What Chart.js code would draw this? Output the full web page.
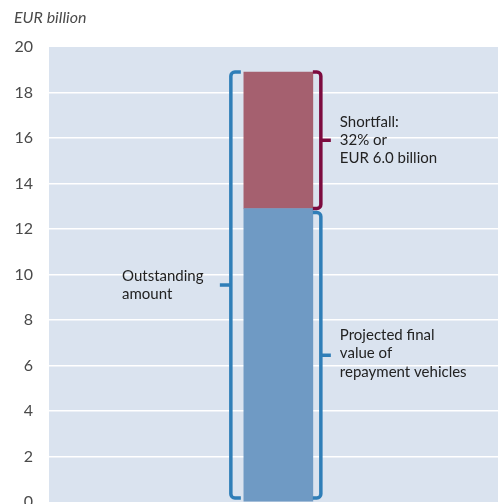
<!DOCTYPE html>
<html lang="en">
<head>
    <meta charset="UTF-8">
    <script src="https://cdn.jsdelivr.net/npm/chart.js"></script>
    <title>Outstanding amount and shortfall</title>
    <style>
        html, body { margin: 0; padding: 0; background: #fff; }
        #wrap { width: 498px; height: 504px; }
    </style>
</head>
<body>
<div id="wrap">
    <canvas id="shortfallChart" width="498" height="504"></canvas>
</div>

<script>
    // values (EUR billion)
    const seriesNames = ['Projected final value of repayment vehicles', 'Shortfall'];
    const repaymentValue = [12.9];
    const shortfallValue = [6.0];
    const yTicks = [0, 2, 4, 6, 8, 10, 12, 14, 16, 18, 20];
    const unitLabel = 'EUR billion';
    const outstandingLabel = ['Outstanding', 'amount'];
    const shortfallLabel = ['Shortfall:', '32% or', 'EUR 6.0 billion'];
    const repaymentLabel = ['Projected final', 'value of', 'repayment vehicles'];

    const FONT = 'Lato, "Open Sans", sans-serif';
    const BLUE_LINE = '#2f7eb8';
    const RED_LINE = '#7c0b3f';

    // light blue plot background + unit label
    const plotBg = {
        id: 'plotBg',
        beforeDraw(chart) {
            const a = chart.chartArea, ctx = chart.ctx;
            ctx.save();
            ctx.fillStyle = '#dae3ef';
            ctx.fillRect(a.left, a.top, a.right - a.left, a.bottom - a.top);
            ctx.fillStyle = '#4a4a4a';
            ctx.font = 'italic 16px ' + FONT;
            ctx.textBaseline = 'alphabetic';
            ctx.fillText(unitLabel, 14, 23);
            ctx.restore();
        }
    };

    // draws a square bracket: side 'left' opens right, 'right' opens left; tick points outward
    function bracket(ctx, x, y1, y2, side, color) {
        const hook = side === 'left' ? 10 : -8;
        const tick = side === 'left' ? -11 : 10;
        const r = 4;
        const ym = (y1 + y2) / 2;
        ctx.save();
        ctx.strokeStyle = color;
        ctx.lineWidth = 3.5;
        ctx.beginPath();
        ctx.moveTo(x + hook, y1);
        ctx.arcTo(x, y1, x, y1 + r, r);
        ctx.lineTo(x, y2 - r);
        ctx.arcTo(x, y2, x + hook, y2, r);
        ctx.lineTo(x + hook, y2);
        ctx.stroke();
        ctx.beginPath();
        ctx.moveTo(x, ym);
        ctx.lineTo(x + tick, ym);
        ctx.stroke();
        ctx.restore();
    }

    function textBlock(ctx, lines, x, yMid, lh) {
        const y0 = yMid - (lines.length - 1) * lh / 2;
        lines.forEach((t, i) => ctx.fillText(t, x, y0 + i * lh));
    }

    const braces = {
        id: 'braces',
        afterDatasetsDraw(chart) {
            const ctx = chart.ctx;
            const y = chart.scales.y;
            const bar = chart.getDatasetMeta(0).data[0];
            const left = bar.x - bar.width / 2;
            const right = bar.x + bar.width / 2;
            const total = repaymentValue[0] + shortfallValue[0];

            const yTop = y.getPixelForValue(total);
            const ySplit = y.getPixelForValue(repaymentValue[0]);
            const yZero = y.getPixelForValue(0) - 4;

            bracket(ctx, left - 13, yTop, yZero, 'left', BLUE_LINE);
            bracket(ctx, right + 8, yTop, ySplit, 'right', RED_LINE);
            bracket(ctx, right + 8, ySplit + 4, yZero, 'right', BLUE_LINE);

            ctx.save();
            ctx.fillStyle = '#222';
            ctx.font = '15px ' + FONT;
            ctx.textBaseline = 'middle';
            ctx.textAlign = 'left';
            textBlock(ctx, outstandingLabel, 122, (yTop + yZero) / 2, 18.5);
            textBlock(ctx, shortfallLabel, right + 27, (yTop + ySplit) / 2, 18);
            textBlock(ctx, repaymentLabel, right + 27, (ySplit + yZero) / 2, 18.5);
            ctx.restore();
        }
    };

    const ctx = document.getElementById('shortfallChart').getContext('2d');
    new Chart(ctx, {
        type: 'bar',
        data: {
            datasets: [
                {
                    label: seriesNames[0],
                    data: repaymentValue.map(v => ({x: 0, y: v})),
                    backgroundColor: '#6f9ac4',
                    barThickness: 69
                },
                {
                    label: seriesNames[1],
                    data: shortfallValue.map(v => ({x: 0, y: v})),
                    backgroundColor: '#a5606f',
                    barThickness: 69
                }
            ]
        },
        options: {
            responsive: false,
            animation: false,
            layout: {padding: {top: 47, bottom: 2, left: 0, right: 0}},
            plugins: {legend: {display: false}, tooltip: {enabled: false}},
            scales: {
                x: {
                    type: 'linear',
                    stacked: true,
                    display: false,
                    min: -1.027,
                    max: 0.973
                },
                y: {
                    stacked: true,
                    min: 0,
                    max: 20,
                    afterBuildTicks(scale) {
                        scale.ticks = yTicks.map(v => ({value: v}));
                    },
                    afterFit(scale) {
                        scale.width = 49;
                        scale.paddingTop = 0;
                        scale.paddingBottom = 0;
                    },
                    border: {display: false},
                    grid: {
                        color: ctx => (ctx.tick && (ctx.tick.value === 0 || ctx.tick.value === 20)) ? 'rgba(0,0,0,0)' : '#ffffff',
                        lineWidth: 1.5,
                        drawTicks: false
                    },
                    ticks: {
                        color: '#4a4a4a',
                        padding: 16,
                        font: {family: FONT, size: 16}
                    }
                }
            }
        },
        plugins: [plotBg, braces]
    });
</script>
</body>
</html>
